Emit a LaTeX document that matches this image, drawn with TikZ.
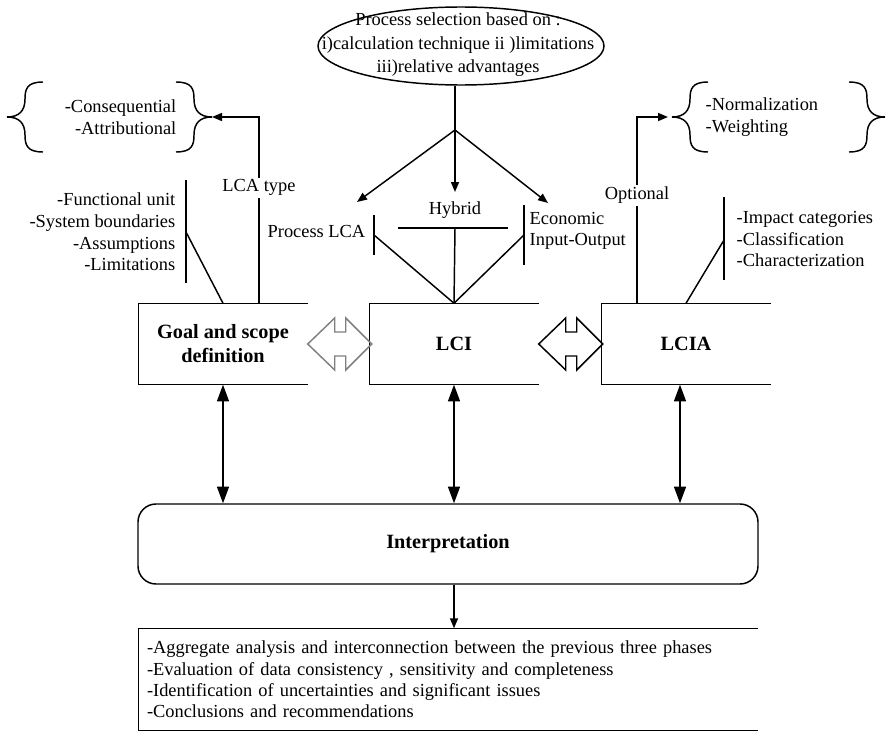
\documentclass[tikz,border=0pt]{standalone}
\usepackage{fontspec}
\setmainfont{Liberation Serif}
\usetikzlibrary{arrows.meta,shapes.geometric}

\tikzset{
  note/.style={font=\fontsize{13.8}{16.2}\selectfont, inner sep=0pt},
  tag/.style={note, fill=white, inner sep=1.5pt},
  phase/.style={minimum width=126pt, minimum height=60pt, align=center,
    font=\fontsize{15.2}{18}\selectfont\bfseries},
  phase link/.style={<->, >={Triangle[length=12.5pt,width=9pt]}},
  % open double arrow between two phases, tip on the left
  dblarrow/.pic={
    \draw[line join=miter] (0,0) -- (27,-26) -- (27,-12) -- (38,-12) -- (38,-26)
      -- (64,0) -- (38,26) -- (38,12) -- (27,12) -- (27,26) -- cycle;
  },
  % curly brace, point at the origin, opening to the right
  lbrace/.pic={
    \draw (36,-35) .. controls (20,-35) and (18,-28) .. (18,-18)
      .. controls (18,-6) and (12,0) .. (0,0)
      .. controls (12,0) and (18,6) .. (18,18)
      .. controls (18,28) and (20,35) .. (36,35);
  }
}

\begin{document}
\begin{tikzpicture}[x=0.75pt, y=-0.75pt, line width=1.1pt,
    >={Triangle[length=7.5pt,width=6pt]}]
  \useasboundingbox (0,0) rectangle (886,735);

  % process selection
  \node[draw, ellipse, minimum width=214.5pt, minimum height=58.5pt, inner sep=0pt] (sel) at (461,46) {};
  \node[note, align=center, font=\fontsize{13.8}{17.6}\selectfont] (seltext) at (458,45)
    {Process selection based on :\\i)calculation technique ii )limitations\\iii)relative advantages};

  % the three phases
  \node[phase] (goal) at (223,344) {Goal and scope\\definition};
  \node[phase] (lci) at (454,344) {LCI};
  \node[phase] (lcia) at (686,344) {LCIA};
  \node[draw, rounded corners=13.5pt, minimum width=465pt, minimum height=60pt,
    font=\fontsize{15.2}{18}\selectfont\bfseries] (interp) at (448,544) {Interpretation};
  \node[note, font=\fontsize{13.8}{16}\selectfont, align=left, text width=451.5pt,
    inner xsep=6pt, minimum height=75.75pt] (notes) at (448,679.5)
    {-Aggregate analysis and interconnection between the previous three phases\\
     -Evaluation of data consistency , sensitivity and completeness\\
     -Identification of uncertainties and significant issues\\
     -Conclusions and recommendations};

  % boxes are left open on the right
  \foreach \b in {goal,lci,lcia,notes}
    \draw (\b.north east) -- (\b.north west) -- (\b.south west) -- (\b.south east);

  \pic[gray] at (goal.east) {dblarrow};
  \pic at (lci.east) {dblarrow};

  \draw[phase link] (goal.south) -- (goal.south |- interp.north);
  \draw[phase link] (lci.south) -- (lci.south |- interp.north);
  \draw[phase link] ([xshift=-4.5pt]lcia.south) -- ([xshift=-4.5pt]lcia.south |- interp.north);
  \draw[->] (lci |- interp.south) -- (lci |- notes.north);

  % LCI methods
  \coordinate (split) at (455,130);
  \coordinate (proctip) at (357,202);
  \coordinate (hybtip) at (455,192);
  \coordinate (eiotip) at (548,203);
  \draw (split |- sel.south) -- (split);
  \foreach \t in {proctip,hybtip,eiotip}
    \draw[->] (split) -- (\t);

  \node[note, anchor=east] (proc) at (366,231) {Process LCA};
  \node[note] (hyb) at (455,210) {Hybrid};
  \node[note, anchor=west, align=left] (eio) at (529,231) {Economic\\Input-Output};
  \draw (374,215) -- (374,255);
  \draw (398,228) -- (508,228);
  \draw (524,205) -- (524,265);
  \draw (374,235) -- (lci.north);
  \draw (455,228) -- (lci.north);
  \draw (524,235) -- (lci.north);

  % goal and scope
  \node[note, anchor=east, align=right] (scope) at (176,232)
    {-Functional unit\\-System boundaries\\-Assumptions\\-Limitations};
  \draw (186,180) -- (186,283);
  \draw (186,232) -- (goal.north);

  \coordinate (lcatip) at (212,117);
  \pic at (7,117) {lbrace};
  \pic[xscale=-1] at (lcatip) {lbrace};
  \node[note, anchor=east, align=right] (types) at (177,117) {-Consequential\\-Attributional};
  \draw[->] ([xshift=27pt]goal.north) |- (lcatip) node[tag, pos=0.31] {LCA type};

  % impact assessment
  \node[note, anchor=west, align=left] (impact) at (736,239)
    {-Impact categories\\-Classification\\-Characterization};
  \draw (724,197) -- (724,280);
  \draw (724,240) -- (lcia.north);

  \coordinate (opttip) at (668,117);
  \pic at (672,117) {lbrace};
  \pic[xscale=-1] at (885,117) {lbrace};
  \node[note, anchor=west, align=left] (weights) at (705,117) {-Normalization\\-Weighting};
  \draw[->] ([xshift=-36.75pt]lcia.north) |- (opttip) node[tag, pos=0.29] {Optional};
\end{tikzpicture}
\end{document}
